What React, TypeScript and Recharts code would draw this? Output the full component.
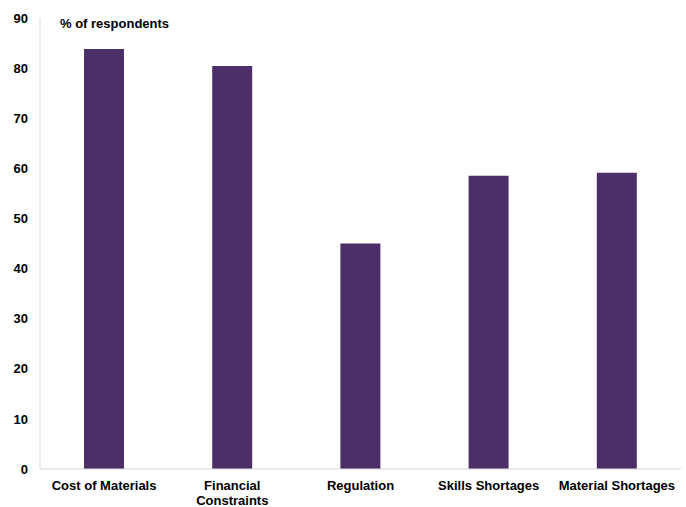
import React from 'react';
import { BarChart, Bar, XAxis, YAxis } from 'recharts';

const categories = ['Cost of Materials', 'Financial\nConstraints', 'Regulation', 'Skills Shortages', 'Material Shortages'];
const respondents = [83.8, 80.4, 45.0, 58.5, 59.1];
const yTicks = [0, 10, 20, 30, 40, 50, 60, 70, 80, 90];

const FONT = '"Liberation Sans", Arial, sans-serif';

const data = categories.map((name, i) => ({ name, value: respondents[i] }));

const CategoryTick = (props: any) => {
  const { x, y, payload } = props;
  const lines = String(payload.value).split('\n');
  return (
    <text x={x} y={y} textAnchor="middle" fill="#000" fontSize={13} fontWeight="bold" fontFamily={FONT}>
      {lines.map((line, i) => (
        <tspan key={i} x={x} dy={i === 0 ? 13 : 15}>{line}</tspan>
      ))}
    </text>
  );
};

export default function App() {
  return (
    <div style={{ position: 'absolute', left: 0, top: 0, width: 686, height: 507, background: '#fff' }}>
      <BarChart width={686} height={507} data={data} margin={{ top: 18, right: 5, bottom: 0, left: 0 }} barCategoryGap={0}>
        <XAxis
          dataKey="name"
          height={38}
          axisLine={{ stroke: '#d9d9d9' }}
          tickLine={false}
          interval={0}
          tick={<CategoryTick />}
        />
        <YAxis
          width={40}
          domain={[0, 90]}
          ticks={yTicks}
          axisLine={{ stroke: '#d9d9d9' }}
          tickLine={false}
          tickSize={10}
          tickMargin={2}
          tick={{ fill: '#000', fontSize: 13, fontWeight: 'bold', fontFamily: FONT }}
        />
        <Bar dataKey="value" fill="#4d2f67" barSize={40} isAnimationActive={false} />
        <text x={60} y={28} fontSize={13} fontWeight="bold" fontFamily={FONT} fill="#000">% of respondents</text>
      </BarChart>
    </div>
  );
}
